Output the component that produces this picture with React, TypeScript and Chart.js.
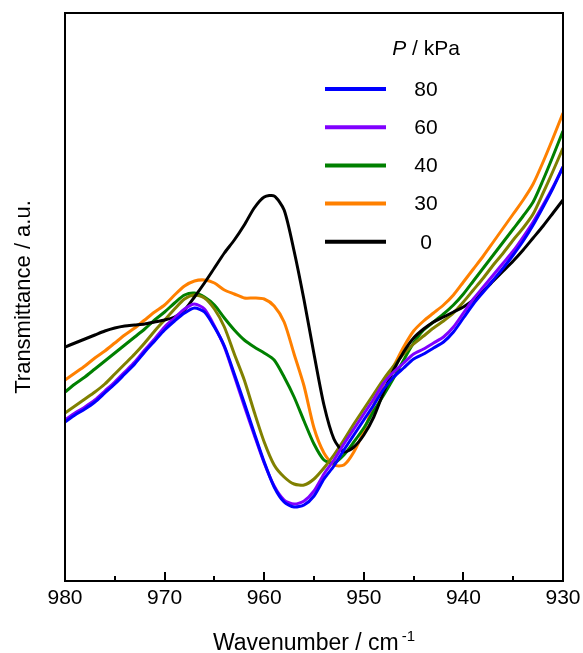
import React, { useEffect, useRef } from "react";
import { Chart, registerables } from "chart.js";

Chart.register(...registerables);

const FONT = "'Liberation Sans', Arial, Helvetica, sans-serif";

// Wavenumber / cm-1
const wavenumbers = [
  980, 979, 978, 977, 976, 975, 974, 973, 972, 971,
  970, 969, 968, 967, 966, 965, 964, 963, 962, 961,
  960, 959, 958, 957, 956, 955, 954, 953, 952, 951,
  950, 949, 948, 947, 946, 945, 944, 943, 942, 941,
  940, 939, 938, 937, 936, 935, 934, 933, 932, 931,
  930,
];

// Transmittance (a.u.) for each pressure
const t80 = [
  15.9, 16.6, 17.2, 17.9, 18.8, 19.7, 20.7, 21.7, 22.9, 24.0,
  25.1, 26.0, 26.8, 27.3, 26.9, 25.4, 23.5, 20.7, 17.8, 14.8,
  11.9, 9.4, 7.9, 7.4, 7.6, 8.5, 10.2, 11.5, 13.1, 14.6,
  16.1, 17.6, 19.2, 20.4, 21.3, 22.2, 22.7, 23.3, 23.9, 24.9,
  26.3, 27.7, 28.9, 30.1, 31.3, 32.6, 34.0, 35.6, 37.4, 39.3,
  41.4,
];
const t60 = [
  16.1, 16.8, 17.4, 18.1, 19.0, 19.9, 20.9, 21.9, 23.1, 24.2,
  25.4, 26.3, 27.2, 27.7, 27.2, 25.5, 23.4, 20.5, 17.5, 14.6,
  11.8, 9.5, 8.1, 7.7, 8.0, 9.0, 10.7, 12.1, 13.7, 15.2,
  16.7, 18.2, 19.8, 20.9, 21.8, 22.7, 23.2, 23.8, 24.4, 25.4,
  26.8, 28.2, 29.4, 30.6, 31.8, 33.0, 34.4, 35.9, 37.6, 39.4,
  41.4,
];
const t40 = [
  18.9, 19.7, 20.4, 21.2, 22.0, 22.8, 23.6, 24.4, 25.2, 26.1,
  26.9, 27.8, 28.6, 28.8, 28.4, 27.6, 26.3, 25.1, 24.1, 23.4,
  22.8, 22.1, 20.4, 18.4, 16.0, 13.7, 12.1, 11.8, 12.6, 13.9,
  15.3, 17.0, 18.6, 20.3, 22.1, 23.8, 25.1, 25.9, 26.7, 27.6,
  28.7, 30.0, 31.3, 32.6, 33.9, 35.2, 36.5, 37.9, 40.1, 42.5,
  45.0,
];
const t30 = [
  20.1, 20.8, 21.5, 22.3, 23.0, 23.8, 24.6, 25.3, 26.1, 26.9,
  27.6, 28.6, 29.5, 30.0, 30.1, 29.8, 29.1, 28.7, 28.3, 28.3,
  28.2, 27.5, 25.9, 22.7, 19.5, 15.3, 12.8, 11.6, 11.6, 12.9,
  15.0, 17.6, 19.7, 21.5, 23.4, 25.0, 26.0, 26.8, 27.6, 28.6,
  29.9, 31.2, 32.5, 33.9, 35.3, 36.7, 38.1, 39.7, 41.9, 44.3,
  46.8,
];
const t0 = [
  23.4, 23.8, 24.2, 24.6, 25.0, 25.3, 25.5, 25.6, 25.7, 25.9,
  26.1, 26.4, 27.1, 28.4, 29.8, 31.3, 32.8, 34.1, 35.6, 37.3,
  38.4, 38.5, 37.1, 33.0, 28.1, 22.7, 17.6, 14.2, 12.9, 13.4,
  14.6, 16.4, 18.9, 21.1, 22.9, 24.3, 25.2, 25.9, 26.4, 26.9,
  27.4, 28.1, 29.0, 30.0, 31.0, 32.0, 33.1, 34.3, 35.5, 36.8,
  38.1,
];
// unlabelled trace (olive), not listed in the legend
const tOlive = [
  16.8, 17.5, 18.2, 18.9, 19.7, 20.7, 21.7, 22.7, 23.8, 25.0,
  26.1, 27.2, 28.2, 28.6, 28.3, 27.2, 25.4, 22.7, 20.1, 16.9,
  13.9, 11.6, 10.4, 9.7, 9.6, 10.2, 11.3, 12.6, 14.1, 15.7,
  17.2, 18.7, 20.2, 21.5, 22.7, 23.7, 24.5, 25.3, 26.0, 26.8,
  27.9, 29.1, 30.3, 31.6, 32.8, 34.1, 35.3, 36.7, 38.8, 41.0,
  43.3,
];

const xTicks = [980, 970, 960, 950, 940, 930];
const xMinorTicks = [975, 965, 955, 945, 935];

const legendLabels = ["80", "60", "40", "30", "0"];
const legendColors = ["#0000ff", "#8000ff", "#008000", "#ff8000", "#000000"];

const toPoints = (vals: number[]) =>
  vals.map((v, i) => ({ x: wavenumbers[i], y: v }));

const decorPlugin = {
  id: "decor",
  afterDraw(chart: any) {
    const { ctx, chartArea: a, scales } = chart;
    const xs = scales.x;
    ctx.save();
    ctx.strokeStyle = "#000";
    ctx.fillStyle = "#000";
    ctx.lineWidth = 2;
    ctx.strokeRect(a.left, a.top, a.right - a.left, a.bottom - a.top);

    // inward ticks on the bottom axis
    ctx.beginPath();
    for (const v of xTicks) {
      const px = Math.round(xs.getPixelForValue(v));
      ctx.moveTo(px, a.bottom);
      ctx.lineTo(px, a.bottom - 9);
    }
    for (const v of xMinorTicks) {
      const px = Math.round(xs.getPixelForValue(v));
      ctx.moveTo(px, a.bottom);
      ctx.lineTo(px, a.bottom - 5);
    }
    ctx.stroke();

    // x title with superscript
    const main = "Wavenumber / cm";
    const sup = "-1";
    ctx.font = `23px ${FONT}`;
    const w1 = ctx.measureText(main).width;
    ctx.font = `15px ${FONT}`;
    const w2 = ctx.measureText(sup).width;
    const cx = (a.left + a.right) / 2;
    const sx = cx - (w1 + w2 + 3) / 2;
    ctx.textAlign = "left";
    ctx.textBaseline = "alphabetic";
    ctx.font = `23px ${FONT}`;
    ctx.fillText(main, sx, a.bottom + 69);
    ctx.font = `15px ${FONT}`;
    ctx.fillText(sup, sx + w1 + 3, a.bottom + 60);

    // y title
    ctx.save();
    ctx.translate(24, (a.top + a.bottom) / 2);
    ctx.rotate(-Math.PI / 2);
    ctx.textAlign = "center";
    ctx.textBaseline = "middle";
    ctx.font = `22px ${FONT}`;
    ctx.fillText("Transmittance / a.u.", 0, 0);
    ctx.restore();

    // legend title
    ctx.textBaseline = "middle";
    ctx.font = `italic 21px ${FONT}`;
    const pw = ctx.measureText("P").width;
    ctx.font = `21px ${FONT}`;
    const rest = " / kPa";
    const rw = ctx.measureText(rest).width;
    const lx = a.left + 361;
    const tStart = lx - (pw + rw) / 2;
    ctx.font = `italic 21px ${FONT}`;
    ctx.fillText("P", tStart, a.top + 36);
    ctx.font = `21px ${FONT}`;
    ctx.fillText(rest, tStart + pw, a.top + 36);

    // legend entries
    ctx.lineWidth = 4;
    ctx.textAlign = "center";
    legendLabels.forEach((lab, i) => {
      const y = a.top + 76 + i * 38.2;
      ctx.strokeStyle = legendColors[i];
      ctx.beginPath();
      ctx.moveTo(a.left + 260, y);
      ctx.lineTo(a.left + 321, y);
      ctx.stroke();
      ctx.fillStyle = "#000";
      ctx.fillText(lab, lx, y + 1);
    });
    ctx.restore();
  },
};

export default function App() {
  const ref = useRef<HTMLCanvasElement | null>(null);

  useEffect(() => {
    if (!ref.current) return;
    const series = [
      { label: legendLabels[0], data: t80, color: legendColors[0] },
      { label: legendLabels[1], data: t60, color: legendColors[1] },
      { label: legendLabels[4], data: t0, color: legendColors[4] },
      { label: "unlabelled", data: tOlive, color: "#808000" },
      { label: legendLabels[2], data: t40, color: legendColors[2] },
      { label: legendLabels[3], data: t30, color: legendColors[3] },
    ];
    const chart = new Chart(ref.current, {
      type: "line",
      data: {
        datasets: series.map((s) => ({
          label: s.label,
          data: toPoints(s.data),
          borderColor: s.color,
          backgroundColor: s.color,
          borderWidth: 3,
          pointRadius: 0,
          fill: false,
          tension: 0.25,
        })),
      },
      options: {
        animation: false,
        responsive: true,
        maintainAspectRatio: false,
        layout: { padding: { left: 65, right: 20, top: 13, bottom: 0 } },
        plugins: {
          legend: { display: false },
          tooltip: { enabled: false },
        },
        scales: {
          x: {
            type: "linear",
            min: 930,
            max: 980,
            reverse: true,
            grid: { display: false, drawTicks: false },
            border: { display: false },
            ticks: {
              stepSize: 10,
              padding: 5,
              color: "#000",
              font: { family: FONT, size: 21 },
              maxRotation: 0,
            },
            afterFit: (s: any) => {
              s.height = 72;
              s.paddingLeft = 0;
              s.paddingRight = 0;
            },
          },
          y: {
            display: false,
            min: 0,
            max: 56.8,
          },
        },
      },
      plugins: [decorPlugin],
    });
    return () => chart.destroy();
  }, []);

  return (
    <div
      style={{
        position: "fixed",
        left: 0,
        top: 0,
        width: 583,
        height: 653,
        background: "#fff",
      }}
    >
      <canvas ref={ref} />
    </div>
  );
}
